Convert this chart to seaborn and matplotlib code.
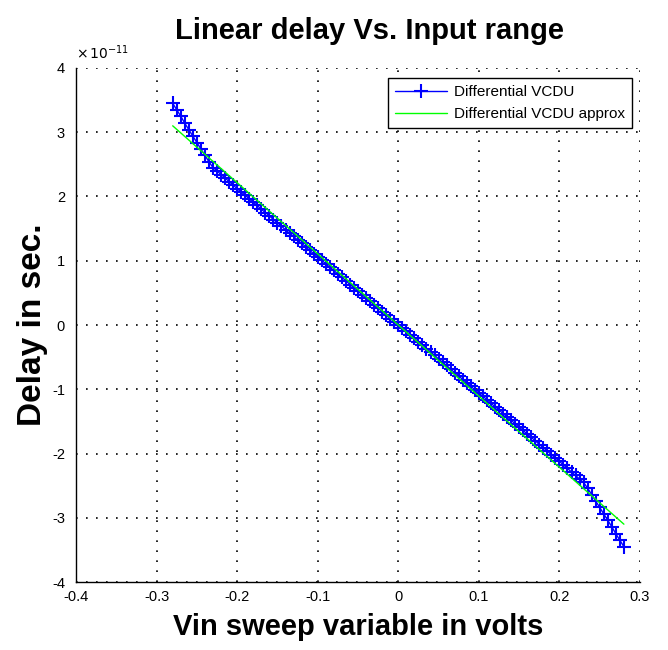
import numpy as np
import pandas as pd
import matplotlib
matplotlib.use("Agg")
import matplotlib.pyplot as plt
import seaborn as sns

# Input sweep (volts) and measured differential delay (units of 1e-11 s)
vin = [round(-0.28 + 0.005 * i, 3) for i in range(113)]
delay_e11 = [
    3.45, 3.35, 3.25, 3.14, 3.04, 2.94, 2.84, 2.74, 2.64, 2.54,
    2.45, 2.40, 2.34, 2.29, 2.23, 2.18, 2.12, 2.07, 2.02, 1.96,
    1.91, 1.86, 1.80, 1.75, 1.70, 1.64, 1.59, 1.54, 1.48, 1.43,
    1.38, 1.32, 1.27, 1.22, 1.16, 1.11, 1.06, 1.01, 0.95, 0.90,
    0.85, 0.79, 0.74, 0.69, 0.63, 0.58, 0.53, 0.47, 0.42, 0.37,
    0.31, 0.26, 0.21, 0.15, 0.10, 0.05, 0.00,
    -0.05, -0.10, -0.15, -0.21, -0.26, -0.31, -0.37, -0.42, -0.47,
    -0.53, -0.58, -0.63, -0.69, -0.74, -0.79, -0.85, -0.90, -0.95,
    -1.01, -1.06, -1.11, -1.16, -1.22, -1.27, -1.32, -1.38, -1.43,
    -1.48, -1.54, -1.59, -1.64, -1.70, -1.75, -1.80, -1.86, -1.91,
    -1.96, -2.02, -2.07, -2.12, -2.18, -2.23, -2.29, -2.34, -2.40,
    -2.45, -2.54, -2.64, -2.74, -2.84, -2.94, -3.04, -3.14, -3.25,
    -3.35, -3.45,
]
# Linear approximation of the delay
approx_vin = [-0.28, 0.28]
approx_delay_e11 = [3.10, -3.10]

x_ticks = [-0.4, -0.3, -0.2, -0.1, 0, 0.1, 0.2, 0.3]
x_tick_labels = ["-0.4", "-0.3", "-0.2", "-0.1", "0", "0.1", "0.2", "0.3"]
y_ticks = [-4, -3, -2, -1, 0, 1, 2, 3, 4]

df = pd.DataFrame({"vin": vin, "delay": [d * 1e-11 for d in delay_e11]})
df_approx = pd.DataFrame({"vin": approx_vin,
                          "delay": [d * 1e-11 for d in approx_delay_e11]})

sns.set_style("white")
plt.rcParams["font.family"] = ["Liberation Sans", "DejaVu Sans"]
plt.rcParams["text.color"] = "black"
plt.rcParams["axes.labelcolor"] = "black"
plt.rcParams["xtick.color"] = "black"
plt.rcParams["ytick.color"] = "black"

fig = plt.figure(figsize=(6.68, 6.5), dpi=100)
ax = fig.add_axes([0.1138, 0.1046, 0.8443, 0.7908])

sns.lineplot(data=df, x="vin", y="delay", ax=ax, color="#0000ff", marker="+",
             markersize=9.5, markeredgewidth=1.5, markeredgecolor="#0000ff",
             linewidth=1.0, label="Differential VCDU", sort=False)
sns.lineplot(data=df_approx, x="vin", y="delay", ax=ax, color="#00ff00",
             linewidth=1.0, label="Differential VCDU approx", sort=False)

ax.set_xlim(-0.4, 0.3)
ax.set_ylim(-4e-11, 4e-11)
ax.set_xticks(x_ticks)
ax.set_xticklabels(x_tick_labels)
ax.set_yticks([v * 1e-11 for v in y_ticks])
ax.set_yticklabels([str(v) for v in y_ticks])

ax.grid(True, color="black", linestyle=(0, (1, 5)), linewidth=1.2)
for side in ("top", "right"):
    ax.spines[side].set_visible(False)
for side in ("left", "bottom"):
    ax.spines[side].set_color("black")
    ax.spines[side].set_linewidth(1.0)
ax.tick_params(direction="in", length=4, width=1, labelsize=10.5)
ax.tick_params(axis="x", pad=6)
ax.tick_params(axis="y", pad=8)

ax.text(0.0, 1.012, r"$\times\,10^{-11}$", transform=ax.transAxes,
        fontsize=10, ha="left", va="bottom")

ax.set_title("Linear delay Vs. Input range", fontsize=21, fontweight="bold",
             pad=21, x=0.52)
ax.set_xlabel("Vin sweep variable in volts", fontsize=21, fontweight="bold",
              labelpad=6)
ax.set_ylabel("Delay in sec.", fontsize=24, fontweight="bold", labelpad=3)

leg = ax.legend(loc="upper right", bbox_to_anchor=(1.0, 0.995), fontsize=11,
                frameon=True, fancybox=False, edgecolor="black",
                framealpha=1, borderpad=0.45, handlelength=3.4,
                labelspacing=0.55, handletextpad=0.5)
leg.get_frame().set_linewidth(1.0)

fig.savefig("out.png", dpi=100, facecolor="white")
